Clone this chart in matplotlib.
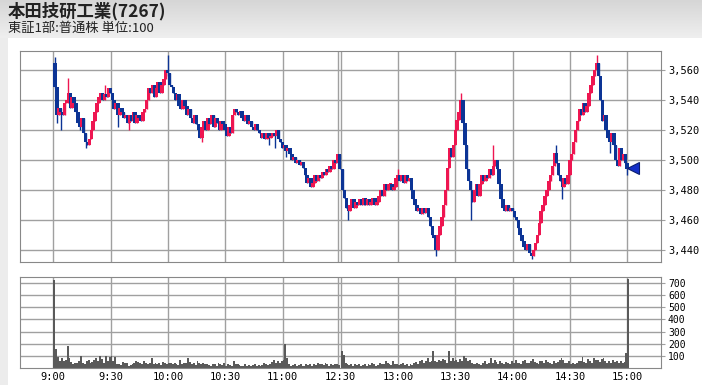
"""Intraday 1-minute candle chart with volume panel (Honda 7267)."""

import matplotlib
matplotlib.use('Agg')
import matplotlib.pyplot as plt
import numpy as np

TITLE = '本田技研工業(7267)'
SUBTITLE = '東証1部:普通株 単位:100'

# 1-minute closes, morning session 9:00-11:29
am_close = [
    3549, 3530, 3535, 3532, 3530, 3538, 3540, 3545, 3535, 3542,
    3538, 3532, 3525, 3522, 3528, 3518, 3512, 3510, 3514, 3520,
    3526, 3532, 3538, 3542, 3545, 3540, 3544, 3542, 3548, 3545,
    3540, 3534, 3538, 3530, 3535, 3532, 3528, 3530, 3525, 3530,
    3526, 3532, 3525, 3530, 3528, 3526, 3532, 3534, 3540, 3548,
    3545, 3550, 3542, 3548, 3552, 3545, 3550, 3554, 3560, 3558,
    3550, 3549, 3545, 3540, 3544, 3536, 3534, 3540, 3536, 3530,
    3534, 3528, 3525, 3530, 3524, 3520, 3515, 3522, 3526, 3520,
    3528, 3524, 3530, 3522, 3528, 3525, 3520, 3526, 3524, 3520,
    3516, 3522, 3518, 3530, 3534, 3532, 3530, 3533, 3528, 3526,
    3530, 3524, 3526, 3522, 3520, 3524, 3520, 3518, 3515, 3518,
    3514, 3518, 3515, 3516, 3518, 3516, 3520, 3514, 3512, 3508,
    3510, 3506, 3508, 3504, 3500, 3502, 3498, 3500, 3497, 3499,
    3495, 3490, 3485, 3488, 3482, 3485, 3490, 3486, 3490, 3488,
    3492, 3490, 3494, 3492, 3496, 3494, 3500, 3498, 3504, 3494,
]
# afternoon session 12:30-15:00
pm_close = [
    3480, 3475, 3468, 3466, 3470, 3474, 3468, 3472, 3470, 3474,
    3470, 3475, 3470, 3474, 3470, 3472, 3475, 3470, 3472, 3476,
    3480, 3476, 3484, 3480, 3484, 3484, 3480, 3482, 3488, 3490,
    3486, 3490, 3485, 3490, 3486, 3488, 3480, 3474, 3470, 3466,
    3468, 3464, 3468, 3465, 3468, 3462, 3456, 3450, 3448, 3440,
    3450, 3456, 3462, 3470, 3480, 3495, 3508, 3502, 3510, 3520,
    3527, 3532, 3540, 3525, 3510, 3494, 3486, 3480, 3472, 3480,
    3484, 3476, 3484, 3490, 3486, 3490, 3488, 3494, 3490, 3496,
    3500, 3494, 3484, 3474, 3468, 3466, 3470, 3466, 3468, 3466,
    3462, 3460, 3455, 3450, 3446, 3442, 3440, 3444, 3438, 3436,
    3440, 3445, 3450, 3458, 3466, 3470, 3476, 3480, 3486, 3490,
    3496, 3505, 3498, 3490, 3486, 3482, 3488, 3484, 3490, 3500,
    3504, 3512, 3520, 3526, 3534, 3530, 3538, 3532, 3536, 3545,
    3550, 3556, 3560, 3565, 3556, 3540, 3526, 3530, 3520, 3515,
    3512, 3518, 3510, 3500, 3496, 3508, 3500, 3504, 3498, 3494,
    3495,
]
first_open = 3565

# notable wicks: minute -> (high, low)
am_wicks = {0: (3569, 3548), 1: (3549, 3525), 3: (3535, 3520), 7: (3555, 3538),
            13: (3528, 3520), 16: (3518, 3508), 26: (3550, 3540), 33: (3538, 3522),
            39: (3530, 3520), 59: (3570, 3556), 77: (3522, 3512), 112: (3518, 3510),
            115: (3518, 3508), 121: (3510, 3502)}
pm_wicks = {3: (3468, 3460), 29: (3494, 3488), 49: (3448, 3436), 62: (3545, 3532),
            67: (3486, 3460), 79: (3510, 3490), 99: (3438, 3434), 112: (3510, 3498),
            115: (3486, 3474), 133: (3570, 3560), 140: (3515, 3505), 149: (3498, 3490)}

# volume (x100 shares)
am_volume = [
    725, 160, 90, 60, 85, 55, 65, 180, 80, 50,
    35, 45, 40, 60, 100, 45, 35, 55, 65, 40,
    50, 70, 85, 60, 95, 75, 45, 100, 60, 90,
    100, 55, 90, 35, 30, 25, 50, 40, 45, 20,
    25, 35, 45, 55, 50, 40, 30, 55, 40, 35,
    45, 85, 30, 45, 35, 45, 25, 50, 40, 30,
    45, 40, 35, 45, 30, 25, 70, 30, 45, 40,
    80, 50, 30, 40, 25, 60, 45, 35, 40, 30,
    30, 25, 20, 35, 30, 20, 45, 30, 25, 40,
    20, 30, 25, 20, 55, 35, 30, 25, 20, 15,
    30, 20, 25, 15, 25, 35, 20, 25, 20, 25,
    40, 30, 25, 35, 50, 70, 45, 60, 40, 60,
    70, 200, 80, 30, 20, 25, 30, 15, 25, 35,
    20, 15, 30, 25, 35, 20, 30, 25, 40, 30,
    35, 25, 45, 30, 20, 30, 25, 35, 30, 25,
]
pm_volume = [
    140, 105, 40, 30, 25, 30, 20, 35, 25, 30,
    20, 25, 30, 20, 35, 25, 40, 30, 20, 25,
    45, 30, 35, 55, 40, 30, 25, 60, 35, 30,
    25, 30, 40, 25, 30, 20, 35, 25, 40, 50,
    35, 55, 70, 45, 60, 80, 50, 60, 140, 55,
    50, 70, 60, 75, 65, 45, 140, 60, 85, 60,
    70, 50, 75, 60, 100, 80, 55, 70, 40, 30,
    35, 45, 30, 25, 40, 55, 35, 45, 80, 40,
    70, 50, 35, 55, 40, 30, 50, 45, 35, 55,
    40, 65, 45, 40, 30, 55, 70, 45, 40, 60,
    75, 50, 45, 35, 60, 55, 40, 70, 50, 45,
    35, 55, 40, 50, 65, 80, 70, 45, 40, 55,
    30, 40, 35, 45, 55, 60, 90, 50, 40, 75,
    60, 45, 85, 70, 65, 50, 75, 80, 60, 45,
    55, 40, 70, 50, 60, 45, 55, 40, 50, 120,
    730,
]

time_labels = ['9:00', '9:30', '10:00', '10:30', '11:00', '12:30',
               '13:00', '13:30', '14:00', '14:30', '15:00']
price_ticks = [3440, 3460, 3480, 3500, 3520, 3540, 3560]
volume_ticks = [100, 200, 300, 400, 500, 600, 700]

UP = '#ee1651'
DOWN = '#0c3495'
GRID = '#a0a0a0'
PM_SHIFT = 150.5  # afternoon minutes start just after the 11:30 line

# positions on the collapsed time axis
x = np.concatenate([np.arange(len(am_close)),
                    PM_SHIFT + np.arange(len(pm_close))])
close = np.array(am_close + pm_close, dtype=float)
opens = np.concatenate([[first_open], close[:-1]])
volume = np.array(am_volume + pm_volume, dtype=float)
highs = np.maximum(opens, close)
lows = np.minimum(opens, close)
for k, (h, l) in am_wicks.items():
    highs[k], lows[k] = max(highs[k], h), min(lows[k], l)
for k, (h, l) in pm_wicks.items():
    i = len(am_close) + k
    highs[i], lows[i] = max(highs[i], h), min(lows[i], l)

tick_pos = [0, 30, 60, 90, 120, PM_SHIFT, PM_SHIFT + 30, PM_SHIFT + 60,
            PM_SHIFT + 90, PM_SHIFT + 120, PM_SHIFT + 150]
grid_x = tick_pos[:5] + [149.2] + tick_pos[5:]

fig = plt.figure(figsize=(7.02, 3.85), dpi=100)
fig.patch.set_facecolor('white')

# header band and left margin strip
bg = fig.add_axes([0, 0, 1, 1], zorder=-10)
bg.axis('off')
grad = np.linspace(0, 1, 64).reshape(-1, 1)
bg.imshow(grad, cmap=matplotlib.colors.LinearSegmentedColormap.from_list(
    'hdr', ['#d6d6d6', '#efefef']), extent=[0, 702, 38, 0], aspect='auto')
bg.add_patch(plt.Rectangle((0, 38), 8, 347, color='#ececec', lw=0))
bg.set_xlim(0, 702)
bg.set_ylim(385, 0)

fig.text(8 / 702, 1 - 11 / 385, TITLE, fontsize=12.5, fontweight='bold',
         family=['Noto Sans CJK JP', 'DejaVu Sans'], va='center', color='#222222')
fig.text(8 / 702, 1 - 28 / 385, SUBTITLE, fontsize=9.5,
         family=['Noto Sans CJK JP', 'DejaVu Sans'], va='center', color='#222222')

left, width = 20 / 702, 641 / 702
ax = fig.add_axes([left, 1 - 262 / 385, width, 211 / 385])
axv = fig.add_axes([left, 1 - 368 / 385, width, 91 / 385])

for a in (ax, axv):
    a.set_xlim(-17.4, 318.1)
    for xv in grid_x:
        a.axvline(xv, color=GRID, lw=1, zorder=0)
    for s in a.spines.values():
        s.set_color('#888888')
    a.yaxis.tick_right()
    a.tick_params(axis='y', direction='out', length=3, color=GRID, pad=2)

# price candles
ax.set_ylim(3432, 3573)
for yv in price_ticks:
    ax.axhline(yv, color=GRID, lw=1, zorder=0)
colors = np.where(close >= opens, UP, DOWN)
body_h = np.maximum(np.abs(close - opens), 1.0)
ax.vlines(x + 0.9, lows, highs, colors=colors, lw=1.0, zorder=2)
ax.bar(x, body_h, width=1.8, bottom=np.minimum(opens, close), align='edge',
       color=colors, lw=0, zorder=3)
ax.plot(x[-1] + 3.2, close[-1], marker='<', ms=8, color='#1530c8',
        mec='#0a1e70', mew=0.8, clip_on=False, zorder=4)
ax.set_yticks(price_ticks)
ax.set_yticklabels([f'{v:,}' for v in price_ticks], family='DejaVu Sans Mono',
                   fontsize=7.5)
ax.set_xticks([])

# volume
axv.set_ylim(0, 750)
for yv in volume_ticks:
    axv.axhline(yv, color=GRID, lw=1, zorder=0)
axv.bar(x, volume, width=1.0, align='edge', color='#5a5a5a', lw=0, zorder=2)
axv.set_yticks(volume_ticks)
axv.set_yticklabels([str(v) for v in volume_ticks], family='DejaVu Sans Mono',
                    fontsize=7)
axv.set_xticks(tick_pos)
axv.set_xticklabels(time_labels, family='DejaVu Sans Mono', fontsize=7.5)
axv.tick_params(axis='x', length=0, pad=3)

fig.savefig('out.png', dpi=100)
